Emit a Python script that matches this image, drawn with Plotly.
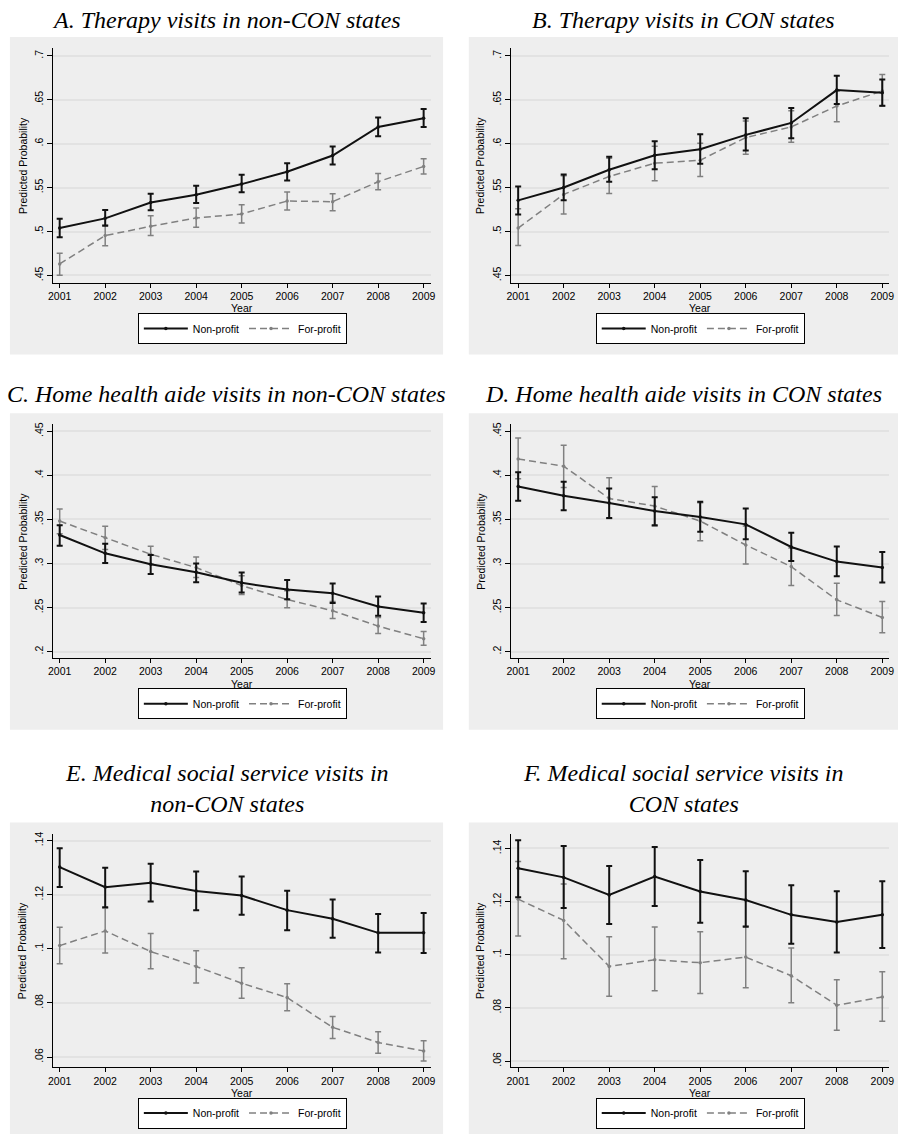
import plotly.graph_objects as go

W, H = 904, 1134

years = [2001, 2002, 2003, 2004, 2005, 2006, 2007, 2008, 2009]
year_labels = [str(y) for y in years]

titles = [
    "A. Therapy visits in non-CON states",
    "B. Therapy visits in CON states",
    "C. Home health aide visits in non-CON states",
    "D. Home health aide visits in CON states",
    "E. Medical social service visits in<br>non-CON states",
    "F. Medical social service visits in<br>CON states",
]

# ---- Panel A: Therapy, non-CON
A_np = [0.504, 0.515, 0.533, 0.542, 0.554, 0.568, 0.5865, 0.619, 0.629]
A_np_hi = [0.5147, 0.5245, 0.543, 0.5521, 0.5646, 0.5778, 0.5967, 0.6297, 0.6395]
A_np_lo = [0.4935, 0.5067, 0.5241, 0.5325, 0.5446, 0.5582, 0.5763, 0.6085, 0.6191]
A_fp = [0.4632, 0.4954, 0.506, 0.5154, 0.52, 0.5347, 0.534, 0.5567, 0.5741]
A_fp_hi = [0.4753, 0.5075, 0.5181, 0.5268, 0.5306, 0.5449, 0.543, 0.5661, 0.5828]
A_fp_lo = [0.4504, 0.4837, 0.4954, 0.5048, 0.5098, 0.5245, 0.5238, 0.5476, 0.5654]

# ---- Panel B: Therapy, CON
B_np = [0.5355, 0.5502, 0.5703, 0.5869, 0.5937, 0.610, 0.6236, 0.661, 0.658]
B_np_hi = [0.5514, 0.565, 0.585, 0.6028, 0.6107, 0.6289, 0.6406, 0.6773, 0.6731]
B_np_lo = [0.5195, 0.5355, 0.5567, 0.571, 0.5771, 0.5922, 0.6062, 0.6452, 0.6431]
B_fp = [0.504, 0.5423, 0.5627, 0.5778, 0.5812, 0.607, 0.6191, 0.6429, 0.660]
B_fp_hi = [0.526, 0.5635, 0.5835, 0.5971, 0.6005, 0.6259, 0.6376, 0.660, 0.6788]
B_fp_lo = [0.484, 0.5201, 0.5434, 0.5578, 0.5627, 0.588, 0.6017, 0.6251, 0.6429]

# ---- Panel C: Home health aide, non-CON
C_np = [0.3324, 0.3116, 0.2992, 0.2901, 0.2781, 0.2705, 0.2664, 0.2513, 0.2441]
C_np_hi = [0.3433, 0.3225, 0.3097, 0.2999, 0.2897, 0.2814, 0.2773, 0.2626, 0.2547]
C_np_lo = [0.3203, 0.3007, 0.2882, 0.2788, 0.2671, 0.2596, 0.2551, 0.2407, 0.2336]
C_fp = [0.3482, 0.3293, 0.3105, 0.2954, 0.275, 0.2592, 0.2464, 0.229, 0.2147]
C_fp_hi = [0.3618, 0.3422, 0.3195, 0.3075, 0.286, 0.269, 0.2569, 0.2388, 0.223]
C_fp_lo = [0.3339, 0.3158, 0.2995, 0.2841, 0.2649, 0.2498, 0.2377, 0.2207, 0.2072]

# ---- Panel D: Home health aide, CON
D_np = [0.3874, 0.3768, 0.3686, 0.3595, 0.3527, 0.3444, 0.3188, 0.3022, 0.2954]
D_np_hi = [0.4036, 0.3927, 0.3851, 0.3753, 0.370, 0.3625, 0.335, 0.3192, 0.3131]
D_np_lo = [0.3712, 0.3603, 0.3516, 0.3435, 0.3361, 0.3275, 0.3029, 0.2856, 0.2784]
D_fp = [0.4187, 0.4104, 0.3738, 0.3652, 0.3482, 0.321, 0.2965, 0.2588, 0.2388]
D_fp_hi = [0.4425, 0.4342, 0.3972, 0.3874, 0.369, 0.3425, 0.3175, 0.2777, 0.2569]
D_fp_lo = [0.3961, 0.3863, 0.3512, 0.3425, 0.3259, 0.2995, 0.275, 0.2411, 0.2215]

# ---- Panel E: Medical social service, non-CON
E_np = [0.1302, 0.1228, 0.1244, 0.1214, 0.1197, 0.1143, 0.1111, 0.1059, 0.1059]
E_np_hi = [0.1372, 0.130, 0.1314, 0.1286, 0.1267, 0.1215, 0.1182, 0.1129, 0.1132]
E_np_lo = [0.1228, 0.1154, 0.1175, 0.1143, 0.1126, 0.1069, 0.1041, 0.0986, 0.0985]
E_fp = [0.1012, 0.1066, 0.099, 0.0935, 0.0873, 0.082, 0.071, 0.0654, 0.0623]
E_fp_hi = [0.108, 0.1151, 0.1057, 0.0993, 0.093, 0.0871, 0.075, 0.0694, 0.066]
E_fp_lo = [0.0945, 0.0985, 0.0926, 0.0874, 0.0817, 0.0771, 0.0669, 0.0614, 0.0586]

# ---- Panel F: Medical social service, CON
F_np = [0.1325, 0.1291, 0.1225, 0.1294, 0.1238, 0.1206, 0.115, 0.1123, 0.115]
F_np_hi = [0.1431, 0.1409, 0.1334, 0.1405, 0.1356, 0.1314, 0.1261, 0.1239, 0.1276]
F_np_lo = [0.1216, 0.1176, 0.1116, 0.1183, 0.112, 0.1105, 0.1041, 0.1008, 0.1025]
F_fp = [0.1209, 0.1129, 0.0956, 0.0981, 0.097, 0.0991, 0.0921, 0.081, 0.0841]
F_fp_hi = [0.1351, 0.1266, 0.1068, 0.1104, 0.1086, 0.1108, 0.1025, 0.0906, 0.0936]
F_fp_lo = [0.107, 0.0985, 0.0844, 0.0864, 0.0854, 0.0876, 0.0819, 0.0716, 0.075]

ticks_AB = [0.45, 0.5, 0.55, 0.6, 0.65, 0.7]
ticks_AB_text = [".45", ".5", ".55", ".6", ".65", ".7"]
ticks_CD = [0.2, 0.25, 0.3, 0.35, 0.4, 0.45]
ticks_CD_text = [".2", ".25", ".3", ".35", ".4", ".45"]
ticks_EF = [0.06, 0.08, 0.1, 0.12, 0.14]
ticks_EF_text = [".06", ".08", ".1", ".12", ".14"]

series_names = ["Non-profit", "For-profit"]

panels = [
    (A_np, A_np_lo, A_np_hi, A_fp, A_fp_lo, A_fp_hi, ticks_AB, ticks_AB_text),
    (B_np, B_np_lo, B_np_hi, B_fp, B_fp_lo, B_fp_hi, ticks_AB, ticks_AB_text),
    (C_np, C_np_lo, C_np_hi, C_fp, C_fp_lo, C_fp_hi, ticks_CD, ticks_CD_text),
    (D_np, D_np_lo, D_np_hi, D_fp, D_fp_lo, D_fp_hi, ticks_CD, ticks_CD_text),
    (E_np, E_np_lo, E_np_hi, E_fp, E_fp_lo, E_fp_hi, ticks_EF, ticks_EF_text),
    (F_np, F_np_lo, F_np_hi, F_fp, F_fp_lo, F_fp_hi, ticks_EF, ticks_EF_text),
]

# ---- layout geometry (pixels)
col_plot_x = [(49, 431), (512, 894)]
col_box_x = [(5, 443), (469, 903)]
row_plot_y = [(46, 281), (423, 657), (833, 1067)]
row_box_y = [(35, 353), (412, 729), (822, 1134)]
row_title_y = [18, 393, 788]
col_title_x = [224, 686]
y_ranges = [[0.442, 0.709], [0.442, 0.709], [0.193, 0.458], [0.193, 0.458],
            [0.0563, 0.1426], [0.0577, 0.1456]]
x_ranges = [[2000.863, 2009.167], [2000.85, 2009.15]]

SANS = "Liberation Sans, Arial, sans-serif"
SERIF = "Liberation Serif, Times New Roman, serif"
NP_COLOR = "#111111"
FP_COLOR = "#808080"


def px_x(v):
    return v / W


def px_y(v):
    return 1 - v / H


fig = go.Figure()
layout = dict(
    width=W, height=H,
    margin=dict(l=0, r=0, t=0, b=0),
    paper_bgcolor="white",
    plot_bgcolor="white",
    showlegend=True,
    shapes=[], annotations=[],
)

for i, (np_v, np_lo, np_hi, fp_v, fp_lo, fp_hi, yt, ytt) in enumerate(panels):
    r, c = divmod(i, 2)
    n = i + 1
    xa = "x" if n == 1 else f"x{n}"
    ya = "y" if n == 1 else f"y{n}"
    leg = "legend" if n == 1 else f"legend{n}"

    # For-profit first (drawn underneath)
    fig.add_trace(go.Scatter(
        x=years, y=fp_v, xaxis=xa, yaxis=ya, legend=leg,
        name=series_names[1], mode="lines+markers", legendrank=2,
        line=dict(color=FP_COLOR, width=1.5, dash="7px,4px"),
        marker=dict(color=FP_COLOR, size=3.5),
        error_y=dict(type="data", symmetric=False,
                     array=[h - v for h, v in zip(fp_hi, fp_v)],
                     arrayminus=[v - l for l, v in zip(fp_lo, fp_v)],
                     color=FP_COLOR, thickness=1.5, width=3),
    ))
    fig.add_trace(go.Scatter(
        x=years, y=np_v, xaxis=xa, yaxis=ya, legend=leg,
        name=series_names[0], mode="lines+markers", legendrank=1,
        line=dict(color=NP_COLOR, width=2),
        marker=dict(color=NP_COLOR, size=3.5),
        error_y=dict(type="data", symmetric=False,
                     array=[h - v for h, v in zip(np_hi, np_v)],
                     arrayminus=[v - l for l, v in zip(np_lo, np_v)],
                     color=NP_COLOR, thickness=2, width=3),
    ))

    x0, x1 = col_plot_x[c]
    y0, y1 = row_plot_y[r]
    axkey = "xaxis" if n == 1 else f"xaxis{n}"
    aykey = "yaxis" if n == 1 else f"yaxis{n}"
    layout[axkey] = dict(
        domain=[px_x(x0), px_x(x1)], range=x_ranges[c], anchor=ya,
        tickvals=years, ticktext=year_labels, ticks="outside", ticklen=4,
        tickcolor="black", showline=True, linecolor="black", linewidth=1,
        showgrid=False, zeroline=False, fixedrange=True,
        tickfont=dict(family=SANS, size=10.5, color="black"),
    )
    layout[aykey] = dict(
        domain=[px_y(y1), px_y(y0)], range=y_ranges[i], anchor=xa,
        tickvals=yt, ticktext=ytt, tickangle=-90, ticks="outside", ticklen=5,
        tickcolor="black", showline=True, linecolor="black", linewidth=1,
        showgrid=True, gridcolor="#e2e2e2", gridwidth=1.5, zeroline=False,
        fixedrange=True,
        tickfont=dict(family=SANS, size=10.5, color="black"),
    )

    bx0, bx1 = col_box_x[c]
    by0, by1 = row_box_y[r]
    layout["shapes"].append(dict(
        type="rect", xref="paper", yref="paper", layer="below",
        x0=px_x(bx0), x1=px_x(bx1), y0=px_y(by1), y1=px_y(by0),
        fillcolor="#eeeeee", line=dict(width=0),
    ))

    # panel title
    layout["annotations"].append(dict(
        text=titles[i], xref="paper", yref="paper", showarrow=False,
        x=px_x(col_title_x[c]), y=px_y(row_title_y[r]),
        xanchor="center", yanchor="middle",
        font=dict(family=SERIF, size=24, color="black", style="italic"),
    ))
    # y-axis title
    layout["annotations"].append(dict(
        text="Predicted Probability", xref="paper", yref="paper", showarrow=False,
        x=px_x(x0 - 31), y=px_y((y0 + y1) / 2), textangle=-90,
        xanchor="center", yanchor="middle",
        font=dict(family=SANS, size=10.5, color="black"),
    ))
    # x-axis title
    layout["annotations"].append(dict(
        text="Year", xref="paper", yref="paper", showarrow=False,
        x=px_x((x0 + x1) / 2), y=px_y(y1 + 26),
        xanchor="center", yanchor="middle",
        font=dict(family=SANS, size=10.5, color="black"),
    ))

    layout[leg] = dict(
        orientation="h", xref="paper", yref="paper",
        x=px_x((x0 + x1) / 2), y=px_y(y1 + 46),
        xanchor="center", yanchor="middle",
        bgcolor="white", bordercolor="black", borderwidth=1,
        font=dict(family=SANS, size=10.5, color="black"),
        itemwidth=44, traceorder="normal", itemclick=False, itemdoubleclick=False,
    )

fig.update_layout(**layout)
fig.write_html("out.html")
